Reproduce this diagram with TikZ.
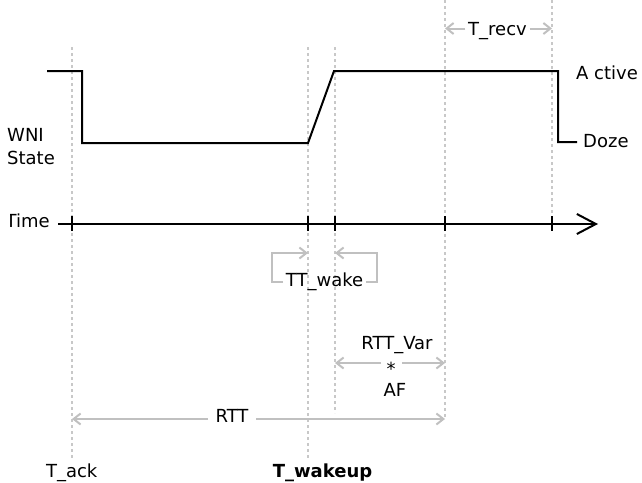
\documentclass[tikz,border=0pt]{standalone}
\usepackage{fontspec}
\setmainfont{DejaVu Sans}
\usetikzlibrary{arrows.meta}
\definecolor{dashgray}{HTML}{C8C8C8}
\definecolor{arrgray}{HTML}{C0C0C0}
\begin{document}
\begin{tikzpicture}[x=1pt,y=-1pt,
  font=\fontsize{18}{21.6}\selectfont,
  sig/.style={line width=2pt, black, line join=miter},
  guide/.style={dashgray, line width=1.5pt, dash pattern=on 3pt off 3pt},
  dim/.style={arrgray, line width=2pt},
  tip/.style={-{Straight Barb[length=7pt,width=11pt,line width=2pt]}},
  lbl/.style={inner sep=0pt, text height=13pt, text depth=0pt},
  gap/.style={lbl, inner xsep=2.5pt}]
\useasboundingbox (0,0) rectangle (642,482);

% guide coordinates
\coordinate (g1t) at (72,47);  \coordinate (g1b) at (72,459);
\coordinate (g2t) at (308,47); \coordinate (g2b) at (308,459);
\coordinate (g3t) at (335,47); \coordinate (g3b) at (335,413);
\coordinate (g4t) at (445,0);  \coordinate (g4b) at (445,419);
\coordinate (g5t) at (552,0);  \coordinate (g5b) at (552,215);
\foreach \g in {1,...,5} \draw[guide] (g\g t) -- (g\g b);

% labels
\begin{scope}
  \clip (10,195) rectangle (60,240);
  \node[inner sep=0pt, anchor=base west] (time) at (5.4,227) {Time};
\end{scope}
\node[inner sep=0pt, anchor=base west] (wni) at (7,141.7) {WNI};
\node[inner sep=0pt, anchor=base west] (state) at (7,164.3) {State};
\node[inner sep=0pt, anchor=base west] (active) at (576,79.3) {A ctive};
\node[inner sep=0pt, anchor=base west] (doze) at (583,147.3) {Doze};
\node[gap, anchor=base] (trecv) at (497.5,35) {T\_recv};
\node[gap, anchor=base] (ttwake) at (324.5,286.7) {TT\_wake};
\node[inner sep=0pt, anchor=base] (rttvar) at (397,349.3) {RTT\_Var};
\node[inner sep=0pt, anchor=base] (star) at (391,375) {*};
\node[inner sep=0pt, anchor=base] (af) at (395,396.7) {AF};
\node[gap, inner xsep=6pt, anchor=base] (rtt) at (232,422.7) {RTT};
\node[inner sep=0pt, anchor=base] (tack) at (71.7,477) {T\_ack};
\node[inner sep=0pt, anchor=base] (twake) at (322.5,477) {\bfseries T\_wakeup};

% dimension arrows
\draw[dim,tip] (trecv.west) -- (trecv.west -| g4t);
\draw[dim,tip] (trecv.east) -- (trecv.east -| g5t);
\coordinate (wkL) at (272,282);
\coordinate (wkR) at (377,282);
\draw[dim,tip] (ttwake.west |- wkL) -- (wkL) |- (g2t |- 0,253);
\draw[dim,tip] (ttwake.east |- wkR) -- (wkR) |- (g3t |- 0,253);
\coordinate (starL) at (381,363);
\coordinate (starR) at (402,363);
\draw[dim,tip] (starL) -- (g3t |- starL);
\draw[dim,tip] (starR) -- (g4t |- starR);
\coordinate (rttL) at (208,419);
\coordinate (rttR) at (256,419);
\draw[dim,tip] (rttL) -- (g1t |- rttL);
\draw[dim,tip] (rttR) -- (g4t |- rttR);

% signal
\draw[sig] (47,71) -- (82,71) -- (82,143) -- (308,143) -- (334,71) -- (558,71) -- (558,142) -- (577,142);

% time axis
\coordinate (ax0) at (58,224);
\coordinate (ax1) at (598,224);
\draw[sig, -{Straight Barb[length=19pt,width=20pt,line width=2pt]}] (ax0) -- (ax1);
\foreach \g in {1,...,5} \draw[sig] (g\g t |- 0,216) -- (g\g t |- 0,231);
\end{tikzpicture}
\end{document}
